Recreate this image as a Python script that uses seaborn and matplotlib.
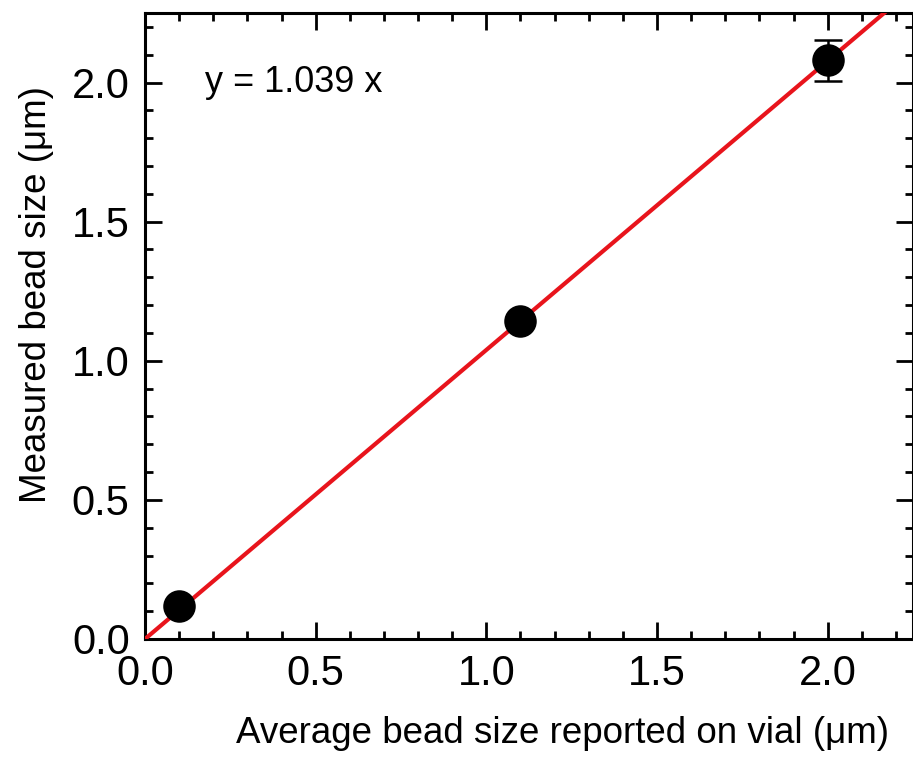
import numpy as np
import pandas as pd
import matplotlib.pyplot as plt
import seaborn as sns

# dados
reportado = [0.1, 1.1, 2.0]
medido = [0.12, 1.144, 2.08]
erro = [0.0, 0.0, 0.073]
inclinacao = 1.039

dados = pd.DataFrame({"reportado": reportado, "medido": medido})

sns.set_theme(style="ticks")
plt.rcParams['font.family'] = ['Liberation Sans', 'DejaVu Sans']

fig = plt.figure(figsize=(9.13, 7.6), dpi=100)
ax = fig.add_axes([145/913, 1 - 639/760, (913-145)/913, (639-13)/760])

# reta ajustada
x_fit = np.array([0.0, 2.25])
sns.lineplot(x=x_fit, y=inclinacao*x_fit, color="#e8141c", linewidth=3.0, ax=ax, zorder=3)

ax.errorbar(reportado, medido, yerr=erro, fmt="none", ecolor="black",
            elinewidth=1.8, capsize=10, capthick=1.8, zorder=4)
sns.scatterplot(data=dados, x="reportado", y="medido", s=470, color="black",
                edgecolor="black", ax=ax, zorder=5)

ax.set_xlim(0, 2.25)
ax.set_ylim(0, 2.25)
ax.set_xticks([0.0, 0.5, 1.0, 1.5, 2.0])
ax.set_yticks([0.0, 0.5, 1.0, 1.5, 2.0])
ax.set_xticks(np.arange(0, 2.25, 0.1), minor=True)
ax.set_yticks(np.arange(0, 2.25, 0.1), minor=True)
ax.set_xticklabels(["0.0", "0.5", "1.0", "1.5", "2.0"])
ax.set_yticklabels(["0.0", "0.5", "1.0", "1.5", "2.0"])

for lado in ["top", "right", "bottom", "left"]:
    ax.spines[lado].set_visible(True)
    ax.spines[lado].set_linewidth(2.2)
    ax.spines[lado].set_color("black")

ax.tick_params(which="both", direction="in", top=True, right=True,
               width=2.0, color="black", labelsize=30, labelcolor="black")
ax.tick_params(which="major", length=12, pad=11)
ax.tick_params(which="minor", length=6)

ax.set_xlabel("Average bead size reported on vial (\u03bcm)", fontsize=26.5, color="black")
ax.set_ylabel("Measured bead size (\u03bcm)", fontsize=26.5, color="black")
ax.xaxis.set_label_coords(0.544, -0.123)
ax.yaxis.set_label_coords(-0.118, 0.55)

ax.text(0.175, 2.0, "y = 1.039 x", fontsize=26, color="black", va="center", ha="left")

fig.savefig("out.png", dpi=100)
